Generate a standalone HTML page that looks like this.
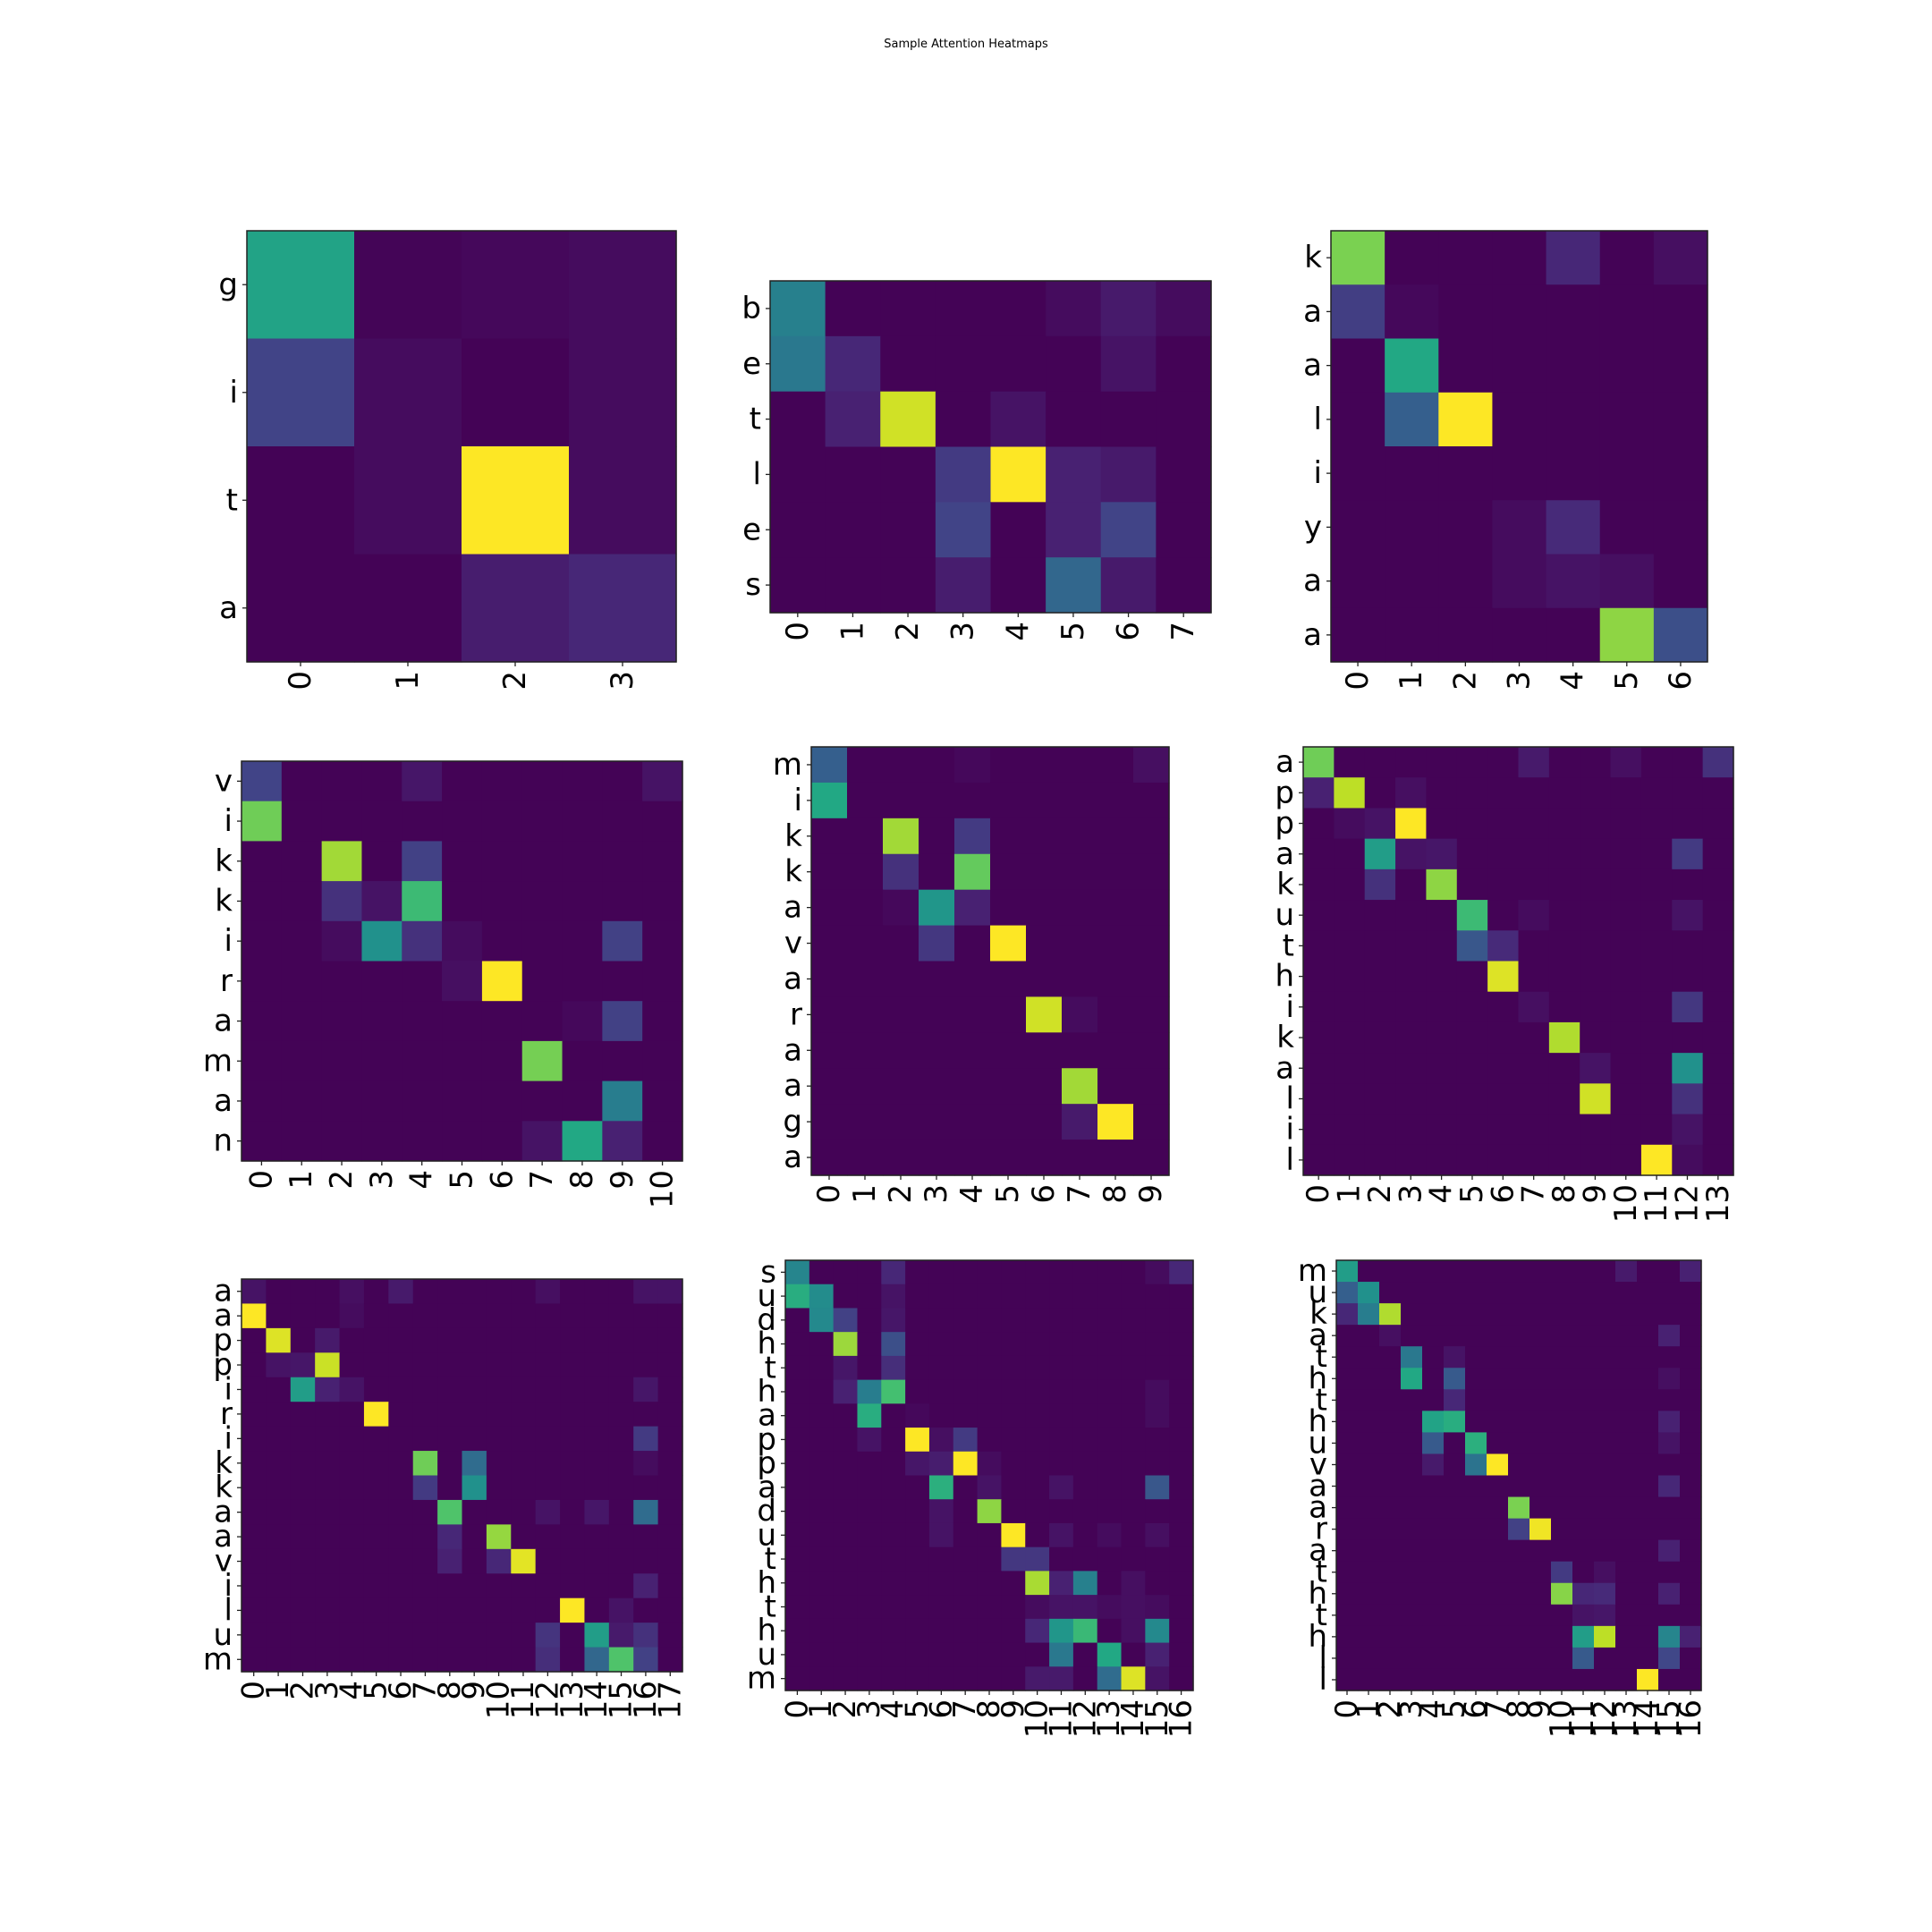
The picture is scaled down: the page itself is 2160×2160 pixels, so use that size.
<!DOCTYPE html>
<html><head><meta charset="utf-8"><style>
html,body{margin:0;padding:0;background:#fff}
svg{display:block}
text{font-family:"DejaVu Sans","Liberation Sans",sans-serif;fill:#000}
</style></head><body>
<svg id="fig" width="2160" height="2160" viewBox="0 0 2160 2160" xmlns="http://www.w3.org/2000/svg">
<rect width="2160" height="2160" fill="#fff"/>
<text x="1080" y="53" font-size="13" text-anchor="middle">Sample Attention Heatmaps</text>
</svg>
<script>
// ---- data: row labels, column counts, and non-background cells [row, col, value] ----
const rows1 = ["g","i","t","a"];
const cols1 = 4;
const cells1 = [[0,0,.58],[0,1,.01],[0,2,.02],[0,3,.03],[1,0,.2],[1,1,.03],[1,3,.03],[2,1,.03],[2,2,1],[2,3,.03],[3,2,.08],[3,3,.11]];

const rows2 = ["b","e","t","l","e","s"];
const cols2 = 8;
const cells2 = [[0,0,.43],[0,5,.03],[0,6,.07],[0,7,.03],[1,0,.4],[1,1,.11],[1,6,.05],[2,1,.09],[2,2,.93],[2,4,.05],[3,3,.17],[3,4,1],[3,5,.09],[3,6,.07],[4,3,.2],[4,5,.09],[4,6,.2],[5,3,.08],[5,5,.33],[5,6,.07]];

const rows3 = ["k","a","a","l","i","y","a","a"];
const cols3 = 7;
const cells3 = [[0,0,.8],[0,4,.11],[0,6,.04],[1,0,.18],[1,1,.02],[2,1,.6],[3,1,.3],[3,2,1],[5,3,.03],[5,4,.12],[6,3,.03],[6,4,.05],[6,5,.04],[7,5,.83],[7,6,.24]];

const rows4 = ["v","i","k","k","i","r","a","m","a","n"];
const cols4 = 11;
const cells4 = [[0,0,.2],[0,4,.06],[0,10,.05],[1,0,.78],[2,2,.86],[2,4,.19],[3,2,.14],[3,3,.05],[3,4,.68],[4,2,.03],[4,3,.5],[4,4,.14],[4,5,.03],[4,9,.19],[5,5,.04],[5,6,1],[6,8,.02],[6,9,.19],[7,7,.79],[8,9,.42],[9,7,.05],[9,8,.6],[9,9,.09]];

const rows5 = ["m","i","k","k","a","v","a","r","a","a","g","a"];
const cols5 = 10;
const cells5 = [[0,0,.3],[0,4,.02],[0,9,.04],[1,0,.6],[2,2,.86],[2,4,.17],[3,2,.14],[3,4,.76],[4,2,.02],[4,3,.52],[4,4,.09],[5,3,.16],[5,5,1],[7,6,.93],[7,7,.03],[9,7,.86],[10,7,.07],[10,8,1]];

const rows6 = ["a","p","p","a","k","u","t","h","i","k","a","l","i","l"];
const cols6 = 14;
const cells6 = [[0,0,.78],[0,7,.07],[0,10,.04],[0,13,.14],[1,0,.09],[1,1,.9],[1,3,.04],[2,1,.03],[2,2,.05],[2,3,1],[3,2,.55],[3,3,.05],[3,4,.06],[3,12,.17],[4,2,.14],[4,4,.83],[5,5,.68],[5,7,.03],[5,12,.05],[6,5,.27],[6,6,.12],[7,6,.95],[8,7,.04],[8,12,.16],[9,8,.88],[10,9,.05],[10,12,.5],[11,9,.93],[11,12,.14],[12,12,.05],[13,11,1],[13,12,.03]];

const rows7 = ["a","a","p","p","i","r","i","k","k","a","a","v","i","l","u","m"];
const cols7 = 18;
const cells7 = [[0,0,.05],[0,4,.04],[0,6,.07],[0,12,.04],[0,16,.05],[0,17,.05],[1,0,1],[1,4,.03],[2,1,.95],[2,3,.07],[3,1,.05],[3,2,.06],[3,3,.92],[4,2,.55],[4,3,.09],[4,4,.05],[4,16,.06],[5,5,1],[6,16,.17],[7,7,.78],[7,9,.35],[7,16,.03],[8,7,.17],[8,9,.5],[9,8,.72],[9,12,.05],[9,14,.06],[9,16,.35],[10,8,.11],[10,10,.84],[11,8,.09],[11,10,.11],[11,11,.96],[12,16,.09],[13,13,1],[13,15,.05],[14,12,.15],[14,14,.55],[14,15,.07],[14,16,.14],[15,12,.13],[15,14,.33],[15,15,.72],[15,16,.19]];

const rows8 = ["s","u","d","h","t","h","a","p","p","a","d","u","t","h","t","h","u","m"];
const cols8 = 17;
const cells8 = [[0,0,.45],[0,4,.11],[0,15,.03],[0,16,.11],[1,0,.62],[1,1,.48],[1,4,.05],[2,1,.47],[2,2,.19],[2,4,.06],[3,2,.85],[3,4,.24],[4,2,.06],[4,4,.13],[5,2,.09],[5,3,.42],[5,4,.7],[5,15,.03],[6,3,.62],[6,5,.02],[6,15,.03],[7,3,.05],[7,5,1],[7,6,.04],[7,7,.17],[8,5,.06],[8,6,.08],[8,7,1],[8,8,.03],[9,6,.63],[9,8,.05],[9,11,.05],[9,15,.27],[10,6,.05],[10,8,.83],[11,6,.05],[11,9,1],[11,11,.05],[11,13,.03],[11,15,.04],[12,9,.16],[12,10,.16],[13,10,.87],[13,11,.09],[13,12,.43],[13,14,.04],[14,10,.03],[14,11,.05],[14,12,.05],[14,13,.03],[14,14,.04],[14,15,.03],[15,10,.11],[15,11,.52],[15,12,.67],[15,14,.04],[15,15,.47],[16,11,.4],[16,13,.6],[16,15,.09],[17,10,.07],[17,11,.07],[17,13,.35],[17,14,.95],[17,15,.05]];

const rows9 = ["m","u","k","a","t","h","t","h","u","v","a","a","r","a","t","h","t","h","l","l"];
const cols9 = 17;
const cells9 = [[0,0,.55],[0,13,.07],[0,16,.09],[1,0,.3],[1,1,.5],[2,0,.11],[2,1,.42],[2,2,.88],[3,2,.04],[3,15,.09],[4,3,.4],[4,5,.05],[5,3,.6],[5,5,.28],[5,15,.04],[6,5,.11],[7,4,.58],[7,5,.62],[7,15,.09],[8,4,.28],[8,6,.63],[8,15,.05],[9,4,.07],[9,6,.38],[9,7,1],[10,15,.11],[11,8,.8],[12,8,.19],[12,9,.98],[13,15,.09],[14,10,.17],[14,12,.04],[15,10,.82],[15,11,.11],[15,12,.12],[15,15,.09],[16,11,.05],[16,12,.06],[17,11,.55],[17,12,.9],[17,15,.45],[17,16,.09],[18,11,.28],[18,15,.21],[19,14,1]];

const BG = 0.005;

// ---- layout (axes boxes: left, top, right, bottom) ----
const panels = [
  {rows:rows1, cols:cols1, cells:cells1, box:[276,258,756,740]},
  {rows:rows2, cols:cols2, cells:cells2, box:[861,314,1354,685]},
  {rows:rows3, cols:cols3, cells:cells3, box:[1488,258,1909,740]},
  {rows:rows4, cols:cols4, cells:cells4, box:[270,851,763,1298]},
  {rows:rows5, cols:cols5, cells:cells5, box:[907,835,1307,1314]},
  {rows:rows6, cols:cols6, cells:cells6, box:[1457,835,1938,1314]},
  {rows:rows7, cols:cols7, cells:cells7, box:[270,1430,763,1869]},
  {rows:rows8, cols:cols8, cells:cells8, box:[878,1409,1334,1890]},
  {rows:rows9, cols:cols9, cells:cells9, box:[1494,1409,1902,1890]}
];

const VIR = ["#440154","#482475","#414487","#355f8d","#2a788e","#21918c","#22a884","#44bf70","#7ad151","#bddf26","#fde725"];
function hex(h){return [parseInt(h.substr(1,2),16),parseInt(h.substr(3,2),16),parseInt(h.substr(5,2),16)];}
function viridis(v){
  v=Math.max(0,Math.min(1,v));
  const p=v*10, i=Math.min(9,Math.floor(p)), f=p-i;
  const a=hex(VIR[i]), b=hex(VIR[i+1]);
  return "rgb("+a.map((x,k)=>Math.round(x+(b[k]-x)*f)).join(",")+")";
}
const NS="http://www.w3.org/2000/svg";
const svg=document.getElementById("fig");
function mk(tag,attrs,parent){const e=document.createElementNS(NS,tag);for(const k in attrs)e.setAttribute(k,attrs[k]);parent.appendChild(e);return e;}

panels.forEach((P,pi)=>{
  const [L,T,R,B]=P.box;
  const nR=P.rows.length, nC=P.cols;
  const cw=(R-L)/nC, rh=(B-T)/nR;
  const xPos=c=>L+c*cw, yPos=r=>T+r*rh;
  const g=mk("g",{},svg);
  
  
  const grid=[];
  for(let r=0;r<nR;r++){grid.push(new Array(nC).fill(BG));}
  P.cells.forEach(([r,c,v])=>{if(r<nR&&c<nC)grid[r][c]=v;});
  for(let r=0;r<nR;r++)for(let c=0;c<nC;c++){
    const rect=mk("rect",{x:xPos(c).toFixed(2),y:yPos(r).toFixed(2),width:(cw+0.6).toFixed(2),height:(rh+0.6).toFixed(2),fill:viridis(grid[r][c])},g);
    
    
  }
  const frame=mk("rect",{x:L,y:T,width:R-L,height:B-T,fill:"none",stroke:"#222","stroke-width":1.5},g);
  
  
  P.rows.forEach((lab,r)=>{
    const y=yPos(r)+rh/2;
    mk("line",{x1:L-5,y1:y,x2:L,y2:y,stroke:"#222","stroke-width":1.3},g);
    const t=mk("text",{x:L-10,y:y,"font-size":34,"text-anchor":"end","dominant-baseline":"central"},g);
    t.textContent=lab;
    
    
  });
  for(let c=0;c<nC;c++){
    const x=xPos(c)+cw/2;
    mk("line",{x1:x,y1:B,x2:x,y2:B+5,stroke:"#222","stroke-width":1.3},g);
    const t=mk("text",{x:x,y:B+10,"font-size":34,"text-anchor":"end","dominant-baseline":"central",transform:"rotate(-90 "+x+" "+(B+10)+")"},g);
    t.textContent=String(c);
    
    
  }
});
</script>
</body></html>
